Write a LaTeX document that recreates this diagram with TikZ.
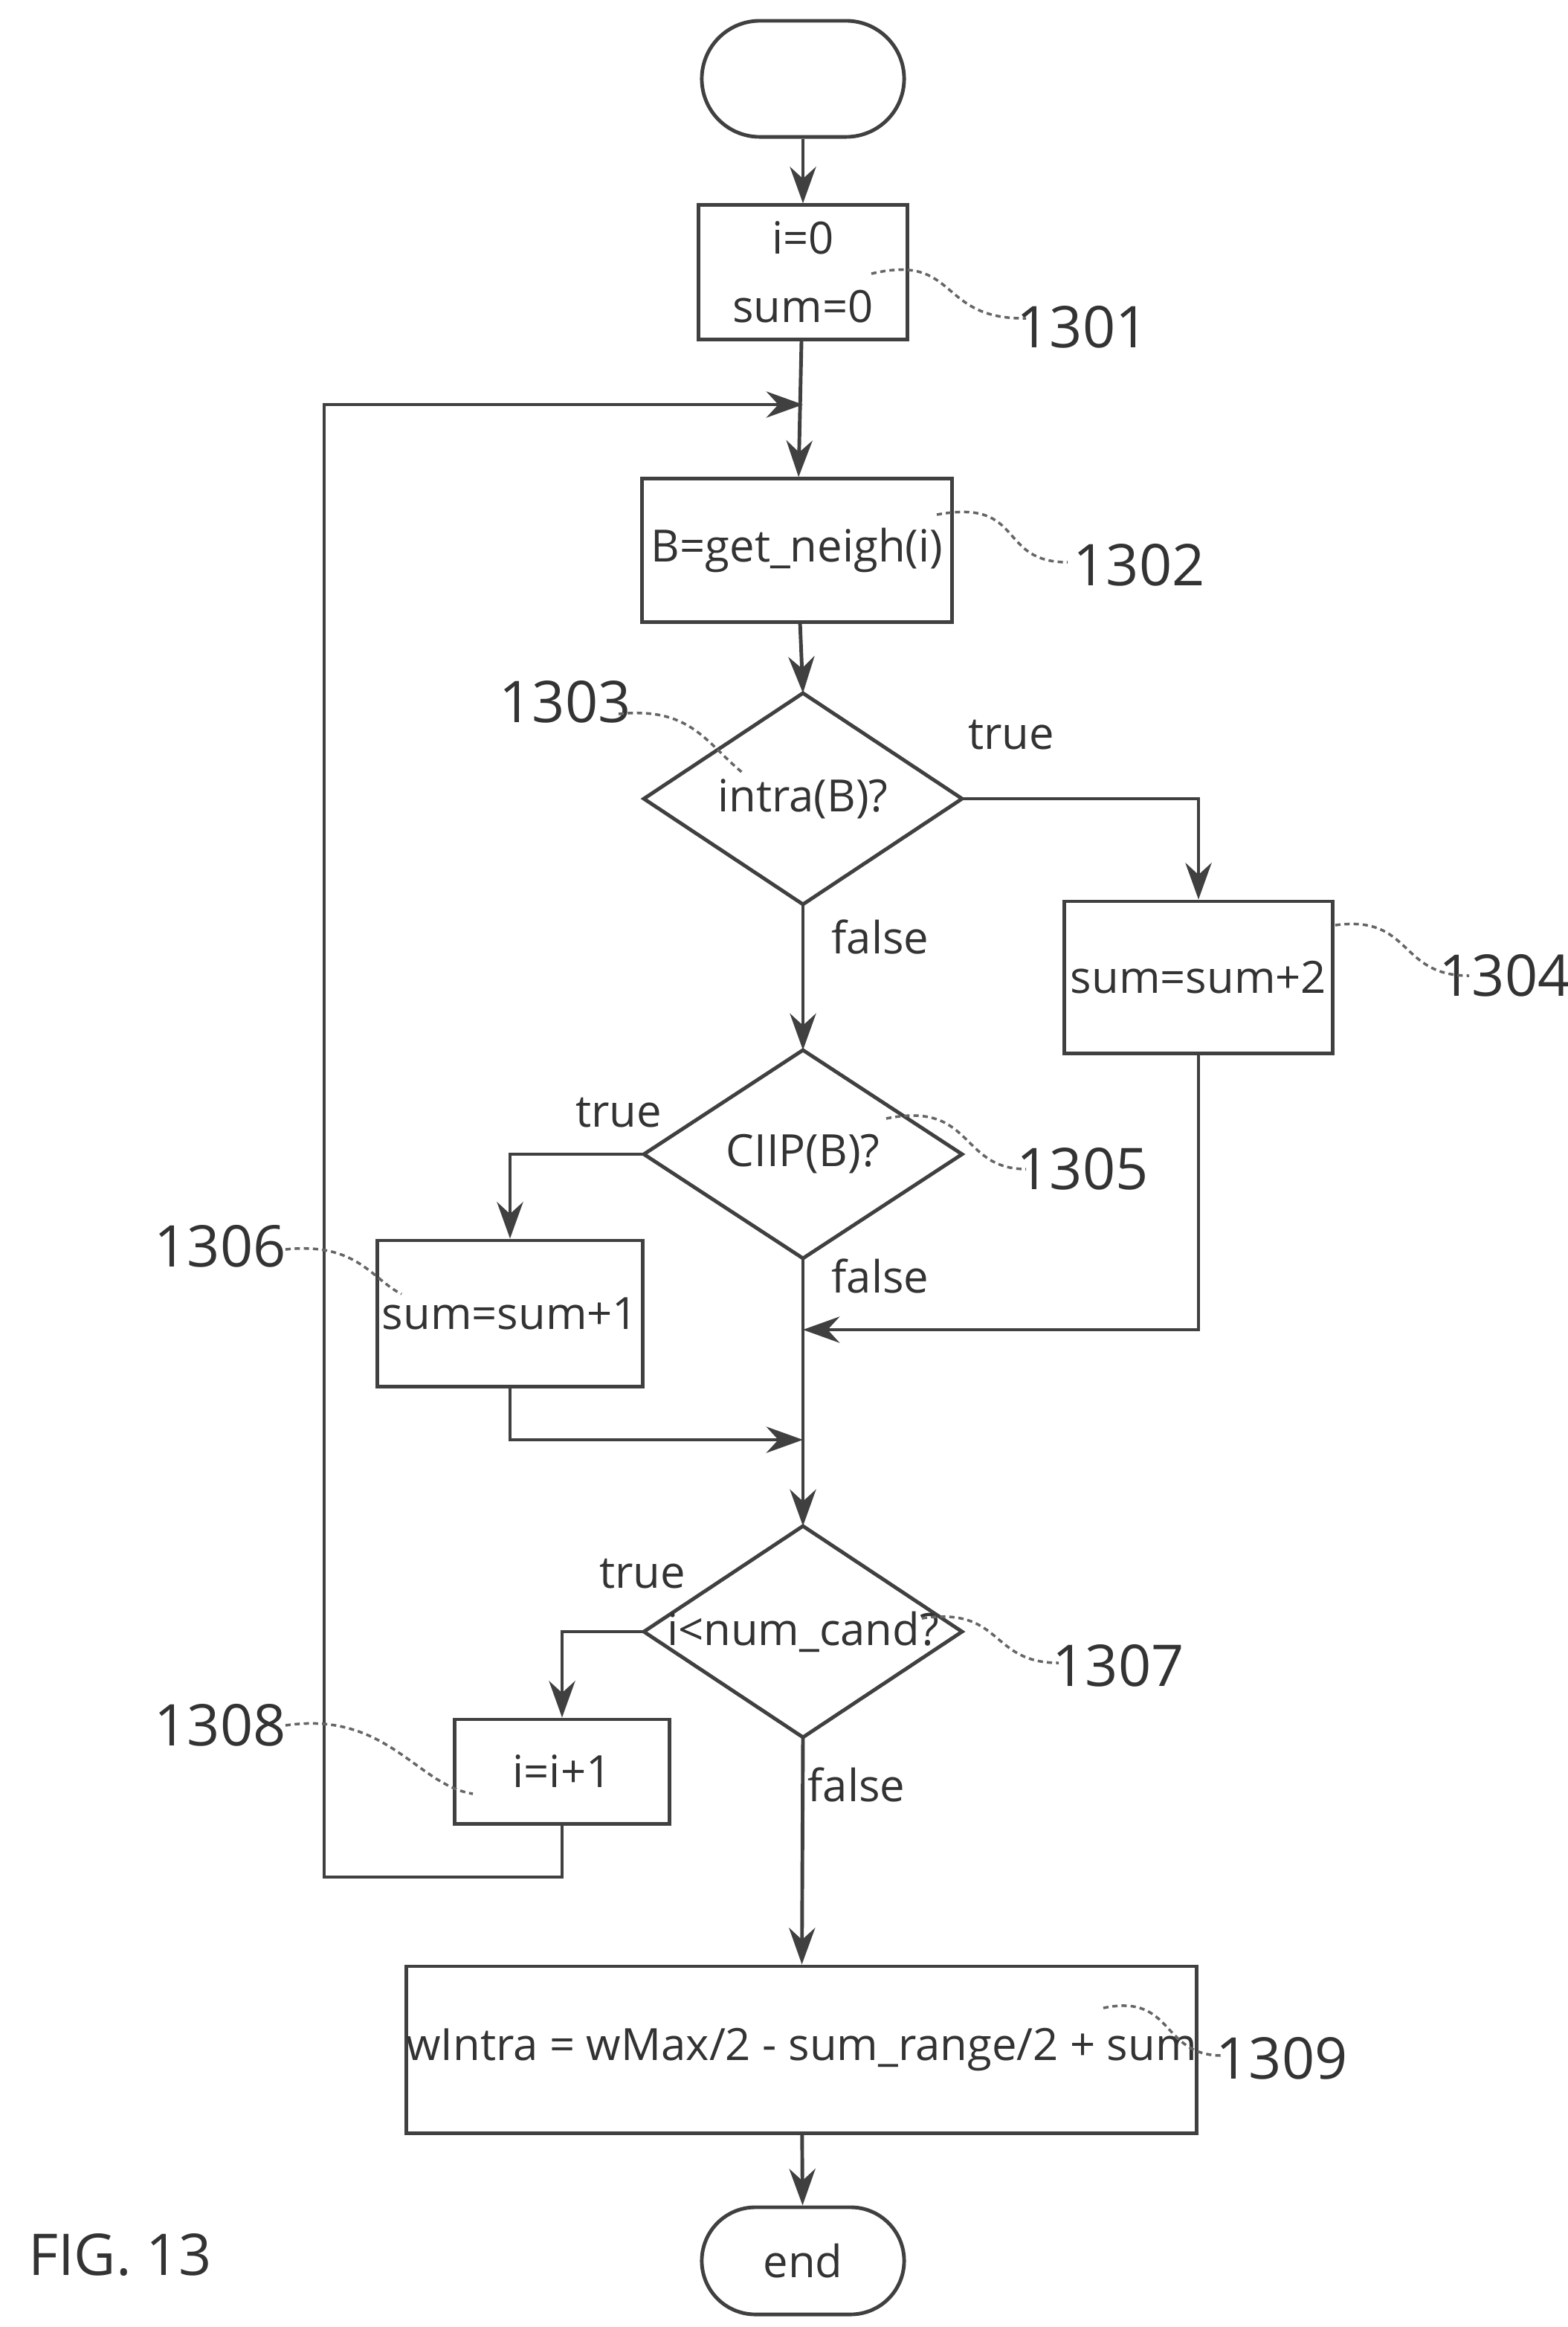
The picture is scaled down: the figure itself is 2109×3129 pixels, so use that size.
\documentclass[tikz,border=0pt]{standalone}
\usepackage{fontspec}
\setmainfont{Open Sans}
\usetikzlibrary{shapes.geometric,arrows.meta,calc}
\begin{document}
\begin{tikzpicture}[x=0.01cm,y=-0.01cm,
  line width=1.4pt, draw=black!75,
  every node/.style={font=\fontsize{17}{22}\selectfont, text=black!80},
  box/.style={draw=black!75, rectangle, line width=1.4pt, align=center, inner sep=0},
  dia/.style={draw=black!75, diamond, line width=1.4pt, aspect=1.5, inner sep=0},
  term/.style={draw=black!75, rounded rectangle, rounded corners=36pt, line width=1.4pt},
  arr/.style={-{Stealth[length=14pt,width=10pt]}},
  lab/.style={font=\fontsize{22}{26}\selectfont},
  lead/.style={line width=1pt, draw=black!60, dash pattern=on 2pt off 1.5pt}]
\useasboundingbox (0,0) rectangle (2109,3129);
\node[box, minimum width=2.72cm, minimum height=1.56cm, rounded corners=0.78cm] (start) at (1080,106) {};
\node[box, minimum width=2.8cm, minimum height=1.8cm] (b1) at (1080,366) {i=0\\[4pt]sum=0};
\node[box, minimum width=4.16cm, minimum height=1.92cm] (b2) at (1072,740) {B=get\_neigh(i)};
\draw (1080,1074) coordinate (d1c);
\path[draw=black!75] (866,1074) -- (1080,932) -- (1294,1074) -- (1080,1216) -- cycle;
\node (d1) at (1080,1074) {intra(B)?};
\coordinate (d1n) at (1080,932); \coordinate (d1e) at (1294,1074); \coordinate (d1s) at (1080,1216);
\node[box, minimum width=3.6cm, minimum height=2.04cm] (b4) at (1612,1314) {sum=sum+2};
\path[draw=black!75] (866,1552) -- (1080,1412) -- (1294,1552) -- (1080,1692) -- cycle;
\node (d2) at (1080,1552) {CIIP(B)?};
\coordinate (d2n) at (1080,1412); \coordinate (d2w) at (866,1552); \coordinate (d2s) at (1080,1692);
\node[box, minimum width=3.56cm, minimum height=1.96cm] (b6) at (686,1766) {sum=sum+1};
\path[draw=black!75] (866,2194) -- (1080,2052) -- (1294,2194) -- (1080,2336) -- cycle;
\node (d3) at (1080,2194) {i<num\_cand?};
\coordinate (d3n) at (1080,2052); \coordinate (d3w) at (866,2194); \coordinate (d3s) at (1080,2336);
\node[box, minimum width=2.88cm, minimum height=1.4cm] (b8) at (756,2382) {i=i+1};
\node[box, minimum width=8.6cm, minimum height=2.24cm] (b9) at (1078,2756) {wIntra = wMax/2 - sum\_range/2 + sum};
\node[box, minimum width=2.72cm, minimum height=1.44cm, rounded corners=0.72cm] (end) at (1080,3040) {end};
\coordinate (j1) at (1080,544);
\coordinate (j2) at (1080,1788);
\coordinate (j3) at (1080,1936);
\coordinate (lp) at (436,2524);
\draw[arr] (start) -- (b1);
\draw[arr] (b1) -- (b2);
\draw[arr] (b8.south) |- (lp) -- (436,544) -- (j1);
\draw[arr] (b2) -- (d1n);
\draw[arr] (d1e) -| (b4.north);
\draw[arr] (d1s) -- (d2n);
\draw[arr] (d2w) -| (b6.north);
\draw[arr] (d2s) -- (d3n);
\draw[arr] (b4.south) |- (j2);
\draw[arr] (b6.south) |- (j3);
\draw[arr] (d3w) -| (b8.north);
\draw[arr] (d3s) -- (b9);
\draw[arr] (b9) -- (end);
\node at (1360,988) {true};
\node at (1184,1260) {false};
\node at (832,1496) {true};
\node at (1184,1716) {false};
\node at (864,2116) {true};
\node at (1152,2400) {false};
\node[lab] at (1456,440) {1301};
\node[lab] at (1532,760) {1302};
\node[lab] at (760,944) {1303};
\node[lab] at (2024,1312) {1304};
\node[lab] at (1456,1572) {1305};
\node[lab] at (296,1676) {1306};
\node[lab] at (1504,2240) {1307};
\node[lab] at (296,2320) {1308};
\node[lab] at (1724,2768) {1309};
\node[lab, anchor=west] at (24,3032) {FIG. 13};
\draw[lead] (1172,368) .. controls (1290,340) and (1260,430) .. (1380,428);
\draw[lead] (1260,692) .. controls (1380,670) and (1340,756) .. (1436,756);
\draw[lead] (832,960) .. controls (930,950) and (950,1000) .. (1000,1040);
\draw[lead] (1796,1244) .. controls (1900,1230) and (1880,1312) .. (1976,1312);
\draw[lead] (1192,1504) .. controls (1310,1480) and (1290,1572) .. (1380,1572);
\draw[lead] (384,1680) .. controls (480,1670) and (500,1720) .. (540,1740);
\draw[lead] (1240,2176) .. controls (1350,2160) and (1330,2236) .. (1424,2236);
\draw[lead] (384,2320) .. controls (520,2300) and (560,2400) .. (636,2412);
\draw[lead] (1484,2700) .. controls (1580,2680) and (1560,2764) .. (1644,2764);
\end{tikzpicture}
\end{document}
